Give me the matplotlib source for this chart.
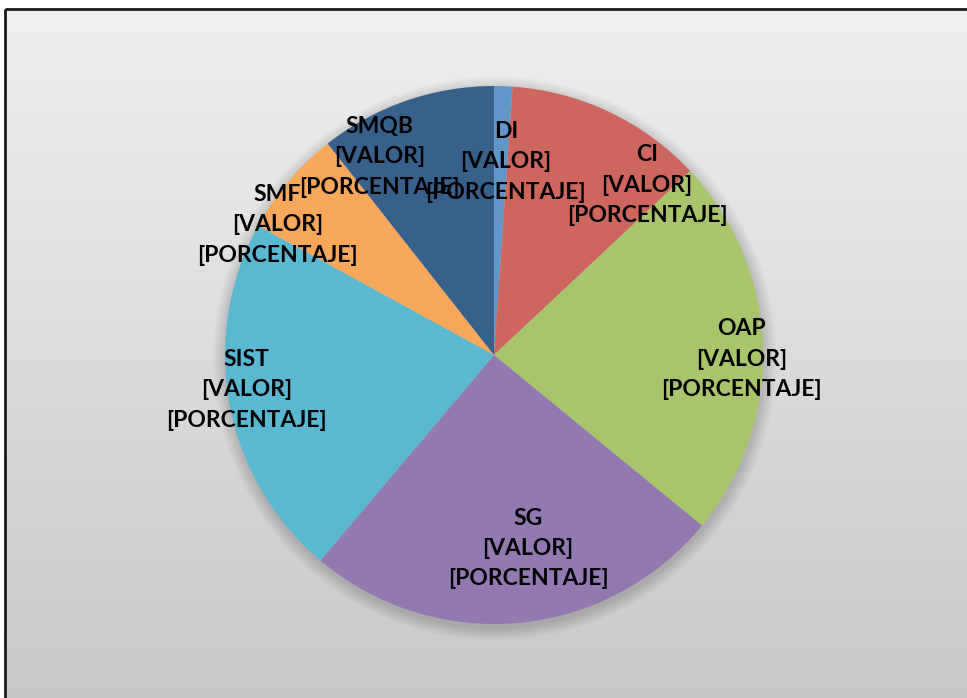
import matplotlib.pyplot as plt
import numpy as np
from matplotlib.patches import Circle, Rectangle
from matplotlib.colors import LinearSegmentedColormap

# slice data (clockwise from 12 o'clock)
categories = ["DI", "CI", "OAP", "SG", "SIST", "SMF", "SMQB"]
shares = [1.1, 11.9, 22.9, 25.2, 21.8, 6.4, 10.6]
slice_colors = ["#6096c8", "#cd665f", "#a9c56b", "#9279b0", "#5bb8d1", "#f8a85a", "#37618a"]

# label placement: (radius factor, angle clockwise from top in degrees)
label_layout = [(0.72, 3.5), (0.85, 42), (0.92, 91), (0.73, 170), (0.93, 262), (0.94, 301), (0.85, 330)]

W, H = 967, 698
fig = plt.figure(figsize=(W / 100, H / 100), dpi=100)
fig.patch.set_facecolor("white")

# background panel with vertical grey gradient and a dark border
bg = fig.add_axes([0, 0, 1, 1])
bg.axis("off")
grad = np.linspace(0, 1, 256).reshape(-1, 1)
cmap = LinearSegmentedColormap.from_list("g", ["#f0f0f0", "#c8c8c8"])
bg.imshow(grad, extent=[5, W + 5, H + 5, 9], cmap=cmap, aspect="auto", zorder=0)
bg.add_patch(Rectangle((5, 9), W, H, fill=False, edgecolor="#1a1a1a", lw=2.0, zorder=1))
bg.set_xlim(0, W)
bg.set_ylim(H, 0)

# pie axes: centre (494, 355) px, radius 269 px
cx, cy, r = 494, 355, 269
ax = fig.add_axes([(cx - r) / W, (H - cy - r) / H, 2 * r / W, 2 * r / H])
ax.axis("off")

# soft shadow behind the pie
for i in range(12):
    ax.add_patch(Circle((0.003, -0.012), 1.0 + 0.004 * (12 - i), color="black",
                        alpha=0.012, lw=0, zorder=0, clip_on=False))

wedges, _ = ax.pie(shares, colors=slice_colors, startangle=90, counterclock=False,
                   radius=1.0, wedgeprops=dict(linewidth=0), frame=False)
ax.set_xlim(-1, 1)
ax.set_ylim(-1, 1)

for name, (dist, ang) in zip(categories, label_layout):
    a = np.deg2rad(ang)
    x = dist * np.sin(a)
    y = dist * np.cos(a)
    ax.text(x, y, f"{name}\n[VALOR]\n[PORCENTAJE]", ha="center", va="center",
            fontsize=16.5, fontweight="bold", family="Lato", color="black",
            linespacing=1.55, zorder=5)

fig.savefig("out.png", dpi=100)
